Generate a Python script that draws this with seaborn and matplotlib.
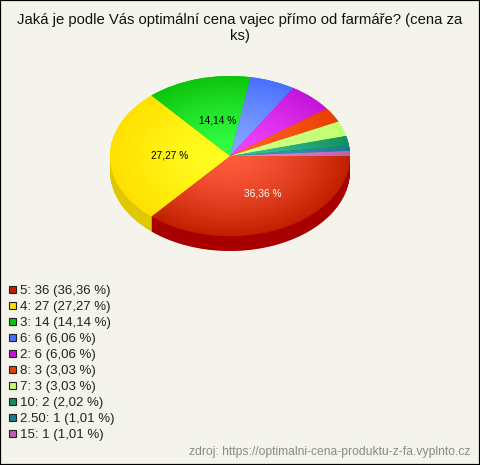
import numpy as np
import seaborn as sns
import matplotlib
matplotlib.use("Agg")
import matplotlib.pyplot as plt
from matplotlib.colors import LinearSegmentedColormap
from matplotlib.patches import Rectangle

categories = ["5", "4", "3", "6", "2", "8", "7", "10", "2.50", "15"]
counts = [36, 27, 14, 6, 6, 3, 3, 2, 1, 1]
percents = [36.36, 27.27, 14.14, 6.06, 6.06, 3.03, 3.03, 2.02, 1.01, 1.01]
inner_colors = ["#ff5c3e", "#ffff22", "#34ff44", "#86a6ff", "#f244ff", "#ff6424",
                "#d4ff88", "#3cc498", "#3c9cb4", "#e888d8"]
outer_colors = ["#c02000", "#ffe000", "#0cc40c", "#4870ff", "#c414d8", "#e84000",
                "#c0ff70", "#109060", "#1a7a90", "#c060b0"]
side_colors = ["#a80000", "#e0c800", "#0a9a0a", "#3858c8", "#9a10a8", "#b83000",
               "#98c858", "#0c7048", "#145f70", "#984c8c"]
title = "Jaká je podle Vás optimální cena vajec přímo od farmáře? (cena za\nks)"
source = "zdroj: https://optimalni-cena-produktu-z-fa.vyplnto.cz"

W, H = 480, 465
BG = "#f5f4ec"
CX, CY, RX, RY, DEPTH = 230, 156, 120, 80, 15

sns.set_theme(style="white")
plt.rcParams["font.family"] = ["Liberation Sans", "DejaVu Sans"]

fig = plt.figure(figsize=(W / 100, H / 100), dpi=100, facecolor=BG)
ax = fig.add_axes([0, 0, 1, 1])


def fx(px):
    return px / W


def fy(px):
    return 1 - px / H


flat = {"linewidth": 0, "edgecolor": "none"}

# side of the pie, stacked copies going up to the top face
for off in np.arange(DEPTH, 0, -0.5):
    ax.pie(counts, colors=side_colors, startangle=0, counterclock=False,
           center=(0, -off / RY), radius=1, frame=False, wedgeprops=flat)

# top face, gradient from the centre to the rim clipped to each wedge
wedges, _ = ax.pie(counts, colors=outer_colors, startangle=0, counterclock=False,
                   center=(0, 0), radius=1, frame=False, wedgeprops=flat)
grid = np.linspace(-1, 1, 300)
gx, gy = np.meshgrid(grid, grid)
dist = np.clip(np.hypot(gx, gy), 0, 1) ** 1.4
for w, c0, c1 in zip(wedges, inner_colors, outer_colors):
    cmap = LinearSegmentedColormap.from_list("w", [c0, c1])
    im = ax.imshow(dist, cmap=cmap, extent=(-1, 1, -1, 1), origin="lower",
                   vmin=0, vmax=1, aspect="auto", zorder=3)
    im.set_clip_path(w)

ax.set_aspect("auto")
ax.set_xlim(-CX / RX, (W - CX) / RX)
ax.set_ylim((CY - H) / RY, CY / RY)
ax.axis("off")

# percent labels on the big slices, nudged in px off the mid angle
nudges = [(8, -1), (0, 0), (4, -3)]
for w, pct, col, (dx, dy) in zip(wedges[:3], percents[:3], ["white", "black", "black"], nudges):
    mid = np.deg2rad((w.theta1 + w.theta2) / 2)
    ax.text(0.5 * np.cos(mid) + dx / RX, 0.5 * np.sin(mid) + dy / RY,
            f"{pct:.2f} %".replace(".", ","),
            ha="center", va="center", fontsize=7.3, color=col, zorder=5)

fig.text(0.5, fy(28), title, ha="center", va="center", fontsize=10.7,
         color="#111111", linespacing=1.15)

# legend rows
for i, (cat, n, pct, col) in enumerate(zip(categories, counts, percents, outer_colors)):
    y = 289 + i * 16
    fig.add_artist(Rectangle((fx(9), fy(y + 3.5)), 7 / W, 7 / H, facecolor=col,
                             edgecolor="#222222", linewidth=0.8,
                             transform=fig.transFigure))
    label = f"{cat}: {n} ({pct:.2f} %)".replace(f"{pct:.2f}", f"{pct:.2f}".replace(".", ","))
    fig.text(fx(20), fy(y + 2), label, ha="left", va="center", fontsize=9.5, color="#222222")

fig.text(fx(470), fy(452), source, ha="right", va="center", fontsize=8.7, color="#8a8a8a")

# black frame on the picture edge
fig.add_artist(Rectangle((0, 0), 1, 1, fill=False, edgecolor="black", linewidth=1.6,
                         transform=fig.transFigure))

fig.savefig("out.png", dpi=100, facecolor=BG)
